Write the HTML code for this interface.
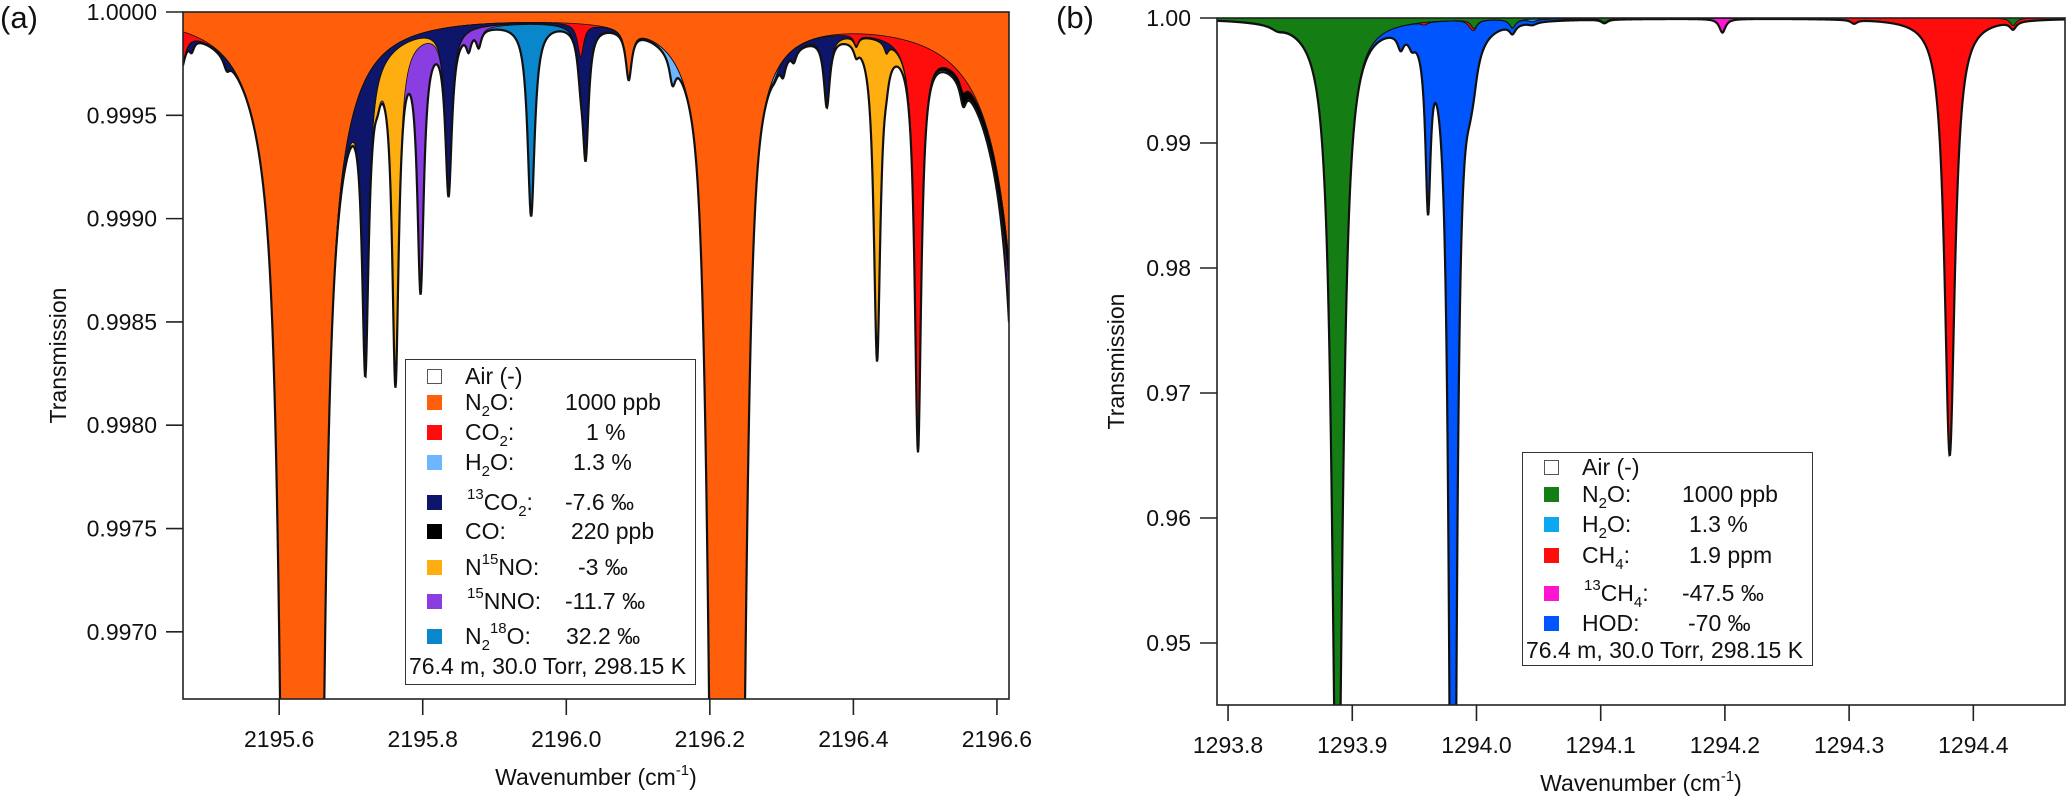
<!DOCTYPE html>
<html><head><meta charset="utf-8">
<style>
html,body{margin:0;padding:0;background:#fff;width:2067px;height:800px;overflow:hidden;}
#wrap{position:relative;width:2067px;height:800px;overflow:hidden;font-family:"Liberation Sans",Arial,sans-serif;color:#111;}
svg{position:absolute;left:0;top:0;}
.leg{position:absolute;border:1.5px solid #333;background:#fff;box-sizing:border-box;}
.row{position:absolute;font-size:23px;line-height:23px;white-space:nowrap;}
.sw{position:absolute;width:15px;height:15px;box-sizing:border-box;}
sub,sup{font-size:15px;line-height:0;}
sub{vertical-align:-6px;} sup{vertical-align:11px;}
</style></head><body>
<div id="wrap">
<svg id="chart" width="2067" height="800" viewBox="0 0 2067 800"></svg>

<div class="leg" style="left:405px;top:359px;width:291px;height:326px;"></div>
<div class="leg" style="left:1522px;top:452px;width:291px;height:214px;"></div>
</div>
<script>
// ---------- Panel (a) data ----------
const aXTicks = [2195.6, 2195.8, 2196.0, 2196.2, 2196.4, 2196.6];
const aXTickLabels = ["2195.6","2195.8","2196.0","2196.2","2196.4","2196.6"];
const aYTicks = [1.0, 0.9995, 0.9990, 0.9985, 0.9980, 0.9975, 0.9970];
const aYTickLabels = ["1.0000","0.9995","0.9990","0.9985","0.9980","0.9975","0.9970"];
const aSpecies = ["N2O","CO2","H2O","13CO2","CO","N15NO","15NNO","N218O"];
const aColors = ["#ff5f0a","#ff0d0d","#6cb6ff","#0d166b","#000000","#ffae12","#8a3de0","#0a86cc"];
const aN2O_centers = [2195.632, 2196.224, 2196.087, 2196.68];
const aN2O_amps    = [0.025, 0.012, 0.00023, 0.049];
const aN2O_gammas  = [0.010, 0.010, 0.0050, 0.010];
const aN2O_gauss   = [0.010, 0.0079, 0, 0];
const aN2O_sigmas  = [0.020, 0.020, 0.01, 0.01];
const aCO2_centers = [2195.462, 2196.020, 2196.404, 2196.490, 2196.553];
const aCO2_amps    = [0.0002, 0.00016, 0.00005, 0.00195, 0.00006];
const aCO2_gammas  = [0.0075, 0.005, 0.004, 0.0055, 0.005];
const aH2O_centers = [2196.148, 2196.290];
const aH2O_amps    = [0.00012, 0.00002];
const aH2O_gammas  = [0.005, 0.005];
const a13CO2_centers = [2195.478, 2195.527, 2195.720, 2195.836, 2196.027, 2196.302, 2196.317, 2196.363, 2196.446];
const a13CO2_amps    = [0.00005, 0.00005, 0.0014, 0.00078, 0.0006, 0.00007, 0.00005, 0.00033, 0.00005];
const a13CO2_gammas  = [0.004, 0.005, 0.0055, 0.0055, 0.005, 0.004, 0.004, 0.005, 0.004];
const aCO_centers = [2196.553, 2196.66];
const aCO_amps    = [0.00004, 0.0006];
const aCO_gammas  = [0.005, 0.02];
const aN15NO_centers = [2195.737, 2195.762, 2196.433];
const aN15NO_amps    = [0.00005, 0.0016, 0.00155];
const aN15NO_gammas  = [0.004, 0.0055, 0.0055];
const a15NNO_centers = [2195.797, 2195.864, 2195.878, 2196.625];
const a15NNO_amps    = [0.0012, 0.00008, 0.00008, 0.0004];
const a15NNO_gammas  = [0.0055, 0.004, 0.004, 0.0075];
const aN218O_centers = [2195.951];
const aN218O_amps    = [0.00093];
const aN218O_gammas  = [0.006];

// ---------- Panel (b) data ----------
const bXTicks = [1293.8,1293.9,1294.0,1294.1,1294.2,1294.3,1294.4];
const bXTickLabels = ["1293.8","1293.9","1294.0","1294.1","1294.2","1294.3","1294.4"];
const bYTicks = [1.00,0.99,0.98,0.97,0.96,0.95];
const bYTickLabels = ["1.00","0.99","0.98","0.97","0.96","0.95"];
const bSpecies = ["N2O","H2O","CH4","13CH4","HOD"];
const bColors = ["#147d14","#0aa8f0","#ff0d0d","#ff14d2","#0055ff"];
const bN2O_centers = [1293.840, 1293.888, 1293.998, 1294.029, 1294.103, 1294.432];
const bN2O_amps    = [0.0003, 0.07, 0.0007, 0.0007, 0.0003, 0.0006];
const bN2O_gammas  = [0.006, 0.005, 0.003, 0.003, 0.003, 0.003];
const bH2O_centers = [1294.045];
const bH2O_amps    = [0.0002];
const bH2O_gammas  = [0.004];
const bCH4_centers = [1293.958, 1293.995, 1294.304, 1294.381];
const bCH4_amps    = [0.0002, 0.0003, 0.0003, 0.035];
const bCH4_gammas  = [0.003, 0.003, 0.003, 0.005];
const b13CH4_centers = [1294.198];
const b13CH4_amps    = [0.0011];
const b13CH4_gammas  = [0.003];
const bHOD_centers = [1293.939, 1293.948, 1293.961, 1293.981, 1293.995];
const bHOD_amps    = [0.0012, 0.0008, 0.013, 0.1, 0.003];
const bHOD_gammas  = [0.003, 0.003, 0.0025, 0.003, 0.006];

// ---------- helpers ----------
const NS = "http://www.w3.org/2000/svg";
const svg = document.getElementById('chart');
function mk(tag, attrs, parent){const e=document.createElementNS(NS,tag);for(const k in attrs)e.setAttribute(k,attrs[k]);(parent||svg).appendChild(e);return e;}
function absorb(w, centers, amps, gammas, gauss, sigmas){
  let s=0;
  for(let i=0;i<centers.length;i++){
    const d=w-centers[i], g=gammas[i];
    s+=amps[i]*g*g/(d*d+g*g);
    if(gauss && gauss[i]) s+=gauss[i]*Math.exp(-(d/sigmas[i])*(d/sigmas[i]));
  }
  return s;
}
function makeAxis(P){
  return {
    x: w => P.left + (w-P.x0)/(P.x1-P.x0)*(P.right-P.left),
    y: t => P.top + (P.y1-t)/(P.y1-P.y0)*(P.bottom-P.top),
    w: px => P.x0 + (px-P.left)/(P.right-P.left)*(P.x1-P.x0)
  };
}
function drawPanel(P, speciesFns, colors, names){
  const ax = makeAxis(P);
  const g = mk('g',{});
  
  
  const cp = mk('clipPath',{id:'clip-'+P.name}, g);
  mk('rect',{x:P.left,y:P.top,width:P.right-P.left,height:P.bottom-P.top},cp);
  const pg = mk('g',{'clip-path':'url(#clip-'+P.name+')'}, g);
  const xs=[]; for(let px=P.left; px<=P.right+0.01; px+=0.5) xs.push(px);
  let prev = xs.map(()=>1.0);
  const curves=[];
  speciesFns.forEach((fn,k)=>{
    const cur = xs.map((px,i)=> prev[i] - fn(ax.w(px)));
    let d='M';
    xs.forEach((px,i)=>{ d+=px.toFixed(1)+','+ax.y(prev[i]).toFixed(2)+' L'; });
    for(let i=xs.length-1;i>=0;i--){ d+=xs[i].toFixed(1)+','+ax.y(cur[i]).toFixed(2)+(i>0?' L':''); }
    d+=' Z';
    const band = mk('path',{d:d, fill:colors[k], stroke:'none'}, pg);
    
    
    curves.push(cur); prev=cur;
  });
  curves.forEach((cur,k)=>{
    let d='M'; xs.forEach((px,i)=>{ d+=px.toFixed(1)+','+ax.y(cur[i]).toFixed(2)+(i<xs.length-1?' L':''); });
    const last = k===curves.length-1;
    const ln = mk('path',{d:d, fill:'none', stroke:'#111', 'stroke-width': last?2.2:0.8}, pg);
    
    
  });
  const fr = mk('rect',{x:P.left,y:P.top,width:P.right-P.left,height:P.bottom-P.top,fill:'none',stroke:'#222','stroke-width':1.6}, g);
  
  
  P.xt.forEach((v,i)=>{
    const X=ax.x(v);
    const t=mk('line',{x1:X,x2:X,y1:P.bottom,y2:P.bottom+16,stroke:'#222','stroke-width':1.6}, g);
    
    
    const tl=mk('text',{x:X,y:P.bottom+48,'text-anchor':'middle','font-size':23,'font-family':'Liberation Sans, Arial, sans-serif',fill:'#111'}, g);
    tl.textContent=P.xl[i];
    
    
  });
  P.yt.forEach((v,i)=>{
    const Y=ax.y(v);
    const t=mk('line',{x1:P.left-17,x2:P.left,y1:Y,y2:Y,stroke:'#222','stroke-width':1.6}, g);
    
    
    const tl=mk('text',{x:P.left-26,y:Y+8,'text-anchor':'end','font-size':23,'font-family':'Liberation Sans, Arial, sans-serif',fill:'#111'}, g);
    tl.textContent=P.yl[i];
    
    
  });
  const yt=mk('text',{x:0,y:0,'text-anchor':'middle','font-size':23,'font-family':'Liberation Sans, Arial, sans-serif',fill:'#111',transform:'translate('+(P.ytx)+','+((P.top+P.bottom)/2)+') rotate(-90)'}, g);
  yt.textContent='Transmission';
  
  
  const xt=mk('text',{x:(P.left+P.right)/2,y:P.xty,'text-anchor':'middle','font-size':23,'font-family':'Liberation Sans, Arial, sans-serif',fill:'#111'}, g);
  xt.innerHTML='Wavenumber (cm<tspan dy="-10" font-size="15">-1</tspan><tspan dy="10">)</tspan>';
  
  
  const pl=mk('text',{x:P.labx,y:28,'font-size':31,'font-family':'Liberation Sans, Arial, sans-serif',fill:'#111'}, g);
  pl.textContent=P.label;
  
  
}

const PA={name:'panel-a',left:183,right:1009,top:12,bottom:699,x0:2195.466,x1:2196.6168,y0:0.996675,y1:1.0,
  xt:aXTicks,xl:aXTickLabels,yt:aYTicks,yl:aYTickLabels,ytx:66,xty:785,labx:0,label:'(a)'};
drawPanel(PA,[
  w=>absorb(w,aN2O_centers,aN2O_amps,aN2O_gammas,aN2O_gauss,aN2O_sigmas),
  w=>absorb(w,aCO2_centers,aCO2_amps,aCO2_gammas),
  w=>absorb(w,aH2O_centers,aH2O_amps,aH2O_gammas),
  w=>absorb(w,a13CO2_centers,a13CO2_amps,a13CO2_gammas),
  w=>absorb(w,aCO_centers,aCO_amps,aCO_gammas),
  w=>absorb(w,aN15NO_centers,aN15NO_amps,aN15NO_gammas),
  w=>absorb(w,a15NNO_centers,a15NNO_amps,a15NNO_gammas),
  w=>absorb(w,aN218O_centers,aN218O_amps,aN218O_gammas)
], aColors, aSpecies);

const PB={name:'panel-b',left:1217,right:2065,top:18,bottom:705,x0:1293.7911,x1:1294.4738,y0:0.94504,y1:1.0,
  xt:bXTicks,xl:bXTickLabels,yt:bYTicks,yl:bYTickLabels,ytx:1124,xty:791,labx:1056,label:'(b)'};
drawPanel(PB,[
  w=>absorb(w,bN2O_centers,bN2O_amps,bN2O_gammas),
  w=>absorb(w,bH2O_centers,bH2O_amps,bH2O_gammas),
  w=>absorb(w,bCH4_centers,bCH4_amps,bCH4_gammas),
  w=>absorb(w,b13CH4_centers,b13CH4_amps,b13CH4_gammas),
  w=>absorb(w,bHOD_centers,bHOD_amps,bHOD_gammas)
], bColors, bSpecies);

// ---------- legends ----------
const aLegLabels = ['Air (-)','N<sub>2</sub>O:','CO<sub>2</sub>:','H<sub>2</sub>O:','<sup>13</sup>CO<sub>2</sub>:','CO:','N<sup>15</sup>NO:','<sup>15</sup>NNO:','N<sub>2</sub><sup>18</sup>O:'];
const aLegValues = ['','1000 ppb','1 %','1.3 %','-7.6 ‰','220 ppb','-3 ‰','-11.7 ‰','32.2 ‰'];
const aLegColors = ['#fff'].concat(aColors);
const bLegLabels = ['Air (-)','N<sub>2</sub>O:','H<sub>2</sub>O:','CH<sub>4</sub>:','<sup>13</sup>CH<sub>4</sub>:','HOD:'];
const bLegValues = ['','1000 ppb','1.3 %','1.9 ppm','-47.5 ‰','-70 ‰'];
const bLegColors = ['#fff'].concat(bColors);
const aRowY=[376,402,432,462,502,531,567,601,636];
const aValX=[0,565,586,573,565,571,578,565,566];
const bRowY=[467,494,524,555,593,623];
const bValX=[0,1682,1689,1689,1682,1688];
const host=document.getElementById('wrap');
function legend(prefix,labels,values,colors,rowY,valX,swx,labx,footX,footY){
  labels.forEach((lab,i)=>{
    const sw=document.createElement('div'); sw.className='sw';
    sw.style.left=(swx-7.5)+'px'; sw.style.top=(rowY[i]-7.5)+'px'; sw.style.background=colors[i];
    if(i===0) sw.style.border='1.3px solid #555';
    
    
    host.appendChild(sw);
    const l=document.createElement('div'); l.className='row'; l.innerHTML=lab;
    l.style.left=(labx + (lab.startsWith('<sup>')?2:0))+'px'; l.style.top=(rowY[i]-11)+'px';
    
    
    host.appendChild(l);
    if(values[i]){
      const v=document.createElement('div'); v.className='row'; v.textContent=values[i];
      v.style.left=valX[i]+'px'; v.style.top=(rowY[i]-11)+'px';
      
      
      host.appendChild(v);
    }
  });
  const f=document.createElement('div'); f.className='row'; f.textContent='76.4 m, 30.0 Torr, 298.15 K';
  f.style.left=footX+'px'; f.style.top=(footY-11)+'px';
  
  
  host.appendChild(f);
}
legend('legend-a',aLegLabels,aLegValues,aLegColors,aRowY,aValX,434,465,409,666);
legend('legend-b',bLegLabels,bLegValues,bLegColors,bRowY,bValX,1551,1582,1526,650);
</script>
</body></html>
